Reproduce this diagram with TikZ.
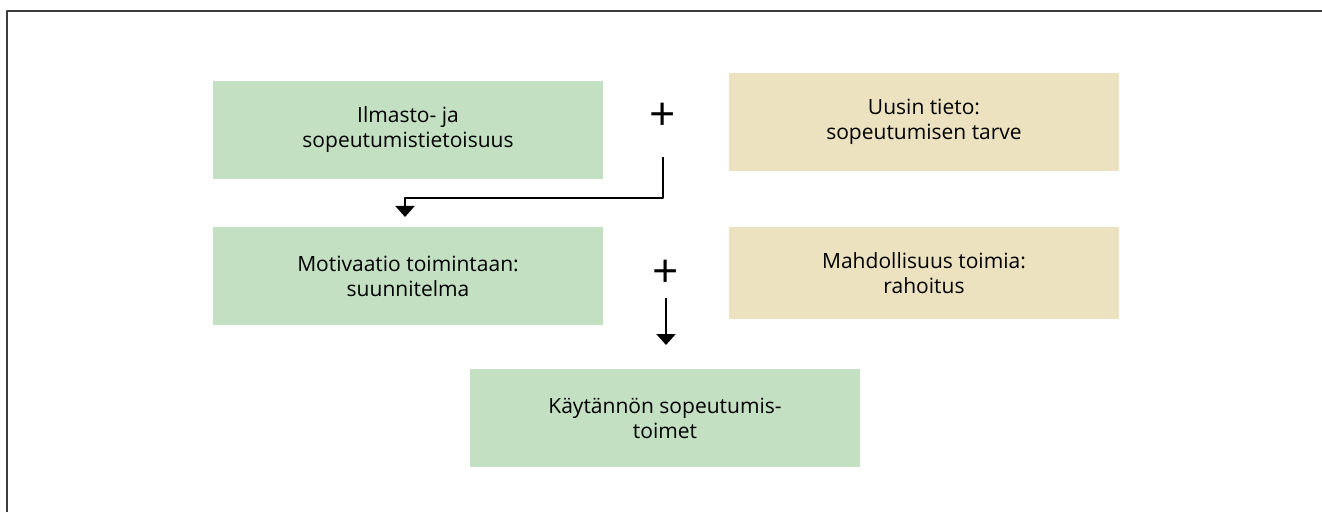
\documentclass[tikz,border=0pt]{standalone}
\usepackage{fontspec}
\setmainfont{Open Sans}
\usetikzlibrary{arrows.meta}
\definecolor{vihrea}{HTML}{C4E0C3}
\definecolor{hiekka}{HTML}{EDE2BF}
\definecolor{kehys}{HTML}{3C3C3C}
\tikzset{
  laatikko/.style={minimum width=390pt,minimum height=98pt,align=center,inner sep=0pt,
    font=\fontsize{21}{25}\selectfont},
  plus/.style={font=\fontsize{46}{46}\selectfont,inner sep=0pt}
}
\begin{document}
\begin{tikzpicture}[x=1pt,y=1pt,>={Triangle[width=19pt,length=11pt]},line join=round]
	\useasboundingbox (0,0) rectangle (1322,512);
	\draw[kehys,line width=2pt] (7,0)--(7,501)--(1322,501);
	\node[laatikko,fill=vihrea] (tietoisuus) at (408,382) {Ilmasto- ja\\sopeutumistietoisuus};
	\node[laatikko,fill=hiekka] (tieto) at (924,390) {Uusin tieto:\\sopeutumisen tarve};
	\node[laatikko,fill=vihrea] (motivaatio) at (408,236) {Motivaatio toimintaan:\\suunnitelma};
	\node[laatikko,fill=hiekka,minimum height=92pt] (rahoitus) at (924,239) {Mahdollisuus toimia:\\rahoitus};
	\node[laatikko,fill=vihrea] (toimet) at (665,94) {K\"ayt\"ann\"on sopeutumis-\\toimet};
	\node[plus] (plusA) at (663,395) {+};
	\node[plus] (plusB) at (666,238) {+};
	\coordinate (alkuA) at (663,355);
	\coordinate (mutka) at (663,314);
	\coordinate (karkiA) at (405,295);
	\coordinate (alkuB) at (666,214);
	\coordinate (karkiB) at (666,167);
	\draw[->,line width=2pt] (alkuA)--(mutka)-|(karkiA);
	\draw[->,line width=2pt] (alkuB)--(karkiB);
\end{tikzpicture}
\end{document}
